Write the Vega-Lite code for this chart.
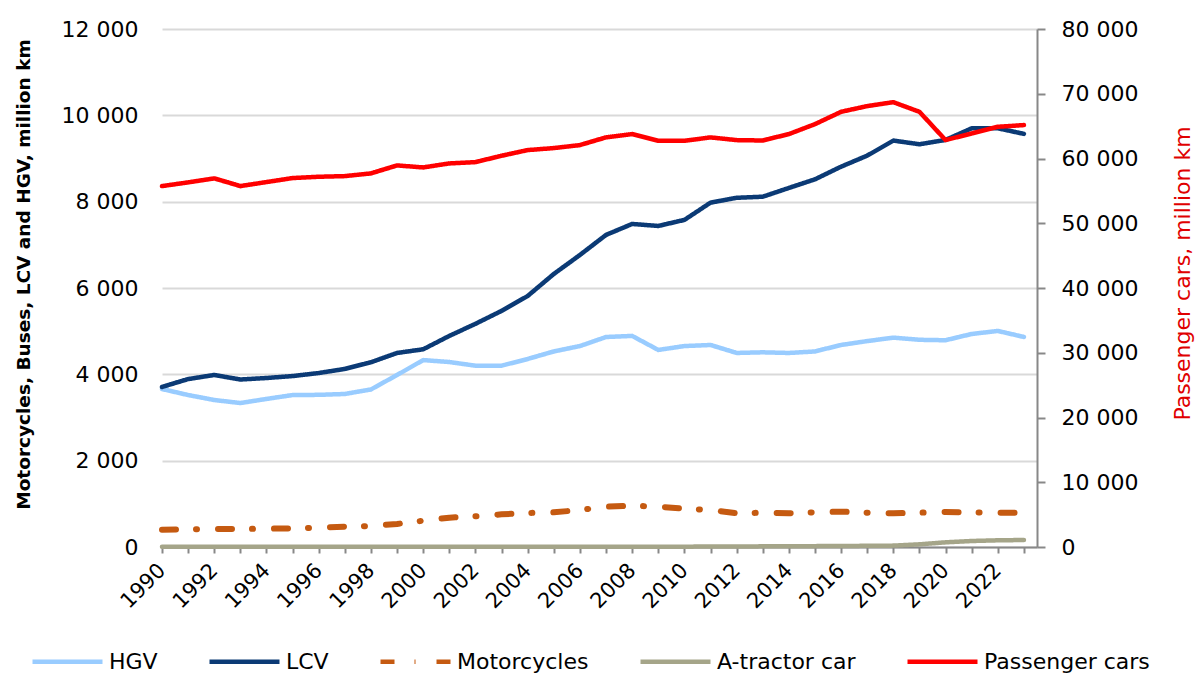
{
  "$schema": "https://vega.github.io/schema/vega-lite/v6.json",
  "width": 875,
  "height": 518,
  "autosize": {"type": "none"},
  "padding": {"left": 162, "top": 29, "right": 160, "bottom": 126},
  "background": "white",
  "config": {
    "font": "DejaVu Sans",
    "view": {"stroke": null},
    "axis": {"labelFont": "DejaVu Sans", "titleFont": "DejaVu Sans", "labelColor": "#000000", "titleColor": "#000000"}
  },
  "datasets": {
    "left": [
      {"year":1990,"series":"HGV","value":3660},{"year":1991,"series":"HGV","value":3520},{"year":1992,"series":"HGV","value":3405},{"year":1993,"series":"HGV","value":3335},{"year":1994,"series":"HGV","value":3430},{"year":1995,"series":"HGV","value":3520},{"year":1996,"series":"HGV","value":3525},{"year":1997,"series":"HGV","value":3545},{"year":1998,"series":"HGV","value":3650},{"year":1999,"series":"HGV","value":3985},{"year":2000,"series":"HGV","value":4330},{"year":2001,"series":"HGV","value":4285},{"year":2002,"series":"HGV","value":4200},{"year":2003,"series":"HGV","value":4200},{"year":2004,"series":"HGV","value":4355},{"year":2005,"series":"HGV","value":4530},{"year":2006,"series":"HGV","value":4655},{"year":2007,"series":"HGV","value":4865},{"year":2008,"series":"HGV","value":4890},{"year":2009,"series":"HGV","value":4565},{"year":2010,"series":"HGV","value":4655},{"year":2011,"series":"HGV","value":4680},{"year":2012,"series":"HGV","value":4495},{"year":2013,"series":"HGV","value":4510},{"year":2014,"series":"HGV","value":4495},{"year":2015,"series":"HGV","value":4530},{"year":2016,"series":"HGV","value":4680},{"year":2017,"series":"HGV","value":4770},{"year":2018,"series":"HGV","value":4850},{"year":2019,"series":"HGV","value":4800},{"year":2020,"series":"HGV","value":4790},{"year":2021,"series":"HGV","value":4935},{"year":2022,"series":"HGV","value":5005},{"year":2023,"series":"HGV","value":4865},
      {"year":1990,"series":"LCV","value":3707},{"year":1991,"series":"LCV","value":3890},{"year":1992,"series":"LCV","value":3985},{"year":1993,"series":"LCV","value":3880},{"year":1994,"series":"LCV","value":3915},{"year":1995,"series":"LCV","value":3960},{"year":1996,"series":"LCV","value":4030},{"year":1997,"series":"LCV","value":4125},{"year":1998,"series":"LCV","value":4280},{"year":1999,"series":"LCV","value":4495},{"year":2000,"series":"LCV","value":4580},{"year":2001,"series":"LCV","value":4890},{"year":2002,"series":"LCV","value":5170},{"year":2003,"series":"LCV","value":5470},{"year":2004,"series":"LCV","value":5815},{"year":2005,"series":"LCV","value":6325},{"year":2006,"series":"LCV","value":6765},{"year":2007,"series":"LCV","value":7230},{"year":2008,"series":"LCV","value":7484},{"year":2009,"series":"LCV","value":7437},{"year":2010,"series":"LCV","value":7577},{"year":2011,"series":"LCV","value":7977},{"year":2012,"series":"LCV","value":8090},{"year":2013,"series":"LCV","value":8115},{"year":2014,"series":"LCV","value":8318},{"year":2015,"series":"LCV","value":8518},{"year":2016,"series":"LCV","value":8811},{"year":2017,"series":"LCV","value":9067},{"year":2018,"series":"LCV","value":9415},{"year":2019,"series":"LCV","value":9330},{"year":2020,"series":"LCV","value":9430},{"year":2021,"series":"LCV","value":9700},{"year":2022,"series":"LCV","value":9700},{"year":2023,"series":"LCV","value":9570},
      {"year":1990,"series":"Motorcycles","value":400},{"year":1991,"series":"Motorcycles","value":408},{"year":1992,"series":"Motorcycles","value":417},{"year":1993,"series":"Motorcycles","value":417},{"year":1994,"series":"Motorcycles","value":424},{"year":1995,"series":"Motorcycles","value":432},{"year":1996,"series":"Motorcycles","value":448},{"year":1997,"series":"Motorcycles","value":471},{"year":1998,"series":"Motorcycles","value":487},{"year":1999,"series":"Motorcycles","value":533},{"year":2000,"series":"Motorcycles","value":610},{"year":2001,"series":"Motorcycles","value":679},{"year":2002,"series":"Motorcycles","value":711},{"year":2003,"series":"Motorcycles","value":757},{"year":2004,"series":"Motorcycles","value":788},{"year":2005,"series":"Motorcycles","value":803},{"year":2006,"series":"Motorcycles","value":857},{"year":2007,"series":"Motorcycles","value":934},{"year":2008,"series":"Motorcycles","value":957},{"year":2009,"series":"Motorcycles","value":934},{"year":2010,"series":"Motorcycles","value":888},{"year":2011,"series":"Motorcycles","value":857},{"year":2012,"series":"Motorcycles","value":780},{"year":2013,"series":"Motorcycles","value":795},{"year":2014,"series":"Motorcycles","value":780},{"year":2015,"series":"Motorcycles","value":803},{"year":2016,"series":"Motorcycles","value":819},{"year":2017,"series":"Motorcycles","value":795},{"year":2018,"series":"Motorcycles","value":780},{"year":2019,"series":"Motorcycles","value":795},{"year":2020,"series":"Motorcycles","value":811},{"year":2021,"series":"Motorcycles","value":803},{"year":2022,"series":"Motorcycles","value":795},{"year":2023,"series":"Motorcycles","value":795},
      {"year":1990,"series":"A-tractor car","value":5},{"year":1991,"series":"A-tractor car","value":5},{"year":1992,"series":"A-tractor car","value":5},{"year":1993,"series":"A-tractor car","value":5},{"year":1994,"series":"A-tractor car","value":5},{"year":1995,"series":"A-tractor car","value":5},{"year":1996,"series":"A-tractor car","value":5},{"year":1997,"series":"A-tractor car","value":5},{"year":1998,"series":"A-tractor car","value":5},{"year":1999,"series":"A-tractor car","value":5},{"year":2000,"series":"A-tractor car","value":5},{"year":2001,"series":"A-tractor car","value":5},{"year":2002,"series":"A-tractor car","value":5},{"year":2003,"series":"A-tractor car","value":5},{"year":2004,"series":"A-tractor car","value":5},{"year":2005,"series":"A-tractor car","value":5},{"year":2006,"series":"A-tractor car","value":5},{"year":2007,"series":"A-tractor car","value":5},{"year":2008,"series":"A-tractor car","value":5},{"year":2009,"series":"A-tractor car","value":5},{"year":2010,"series":"A-tractor car","value":8},{"year":2011,"series":"A-tractor car","value":10},{"year":2012,"series":"A-tractor car","value":12},{"year":2013,"series":"A-tractor car","value":15},{"year":2014,"series":"A-tractor car","value":18},{"year":2015,"series":"A-tractor car","value":20},{"year":2016,"series":"A-tractor car","value":24},{"year":2017,"series":"A-tractor car","value":27},{"year":2018,"series":"A-tractor car","value":32},{"year":2019,"series":"A-tractor car","value":62},{"year":2020,"series":"A-tractor car","value":108},{"year":2021,"series":"A-tractor car","value":139},{"year":2022,"series":"A-tractor car","value":155},{"year":2023,"series":"A-tractor car","value":162}
    ],
    "right": [
      {"year":1990,"series":"Passenger cars","value":55740},{"year":1991,"series":"Passenger cars","value":56310},{"year":1992,"series":"Passenger cars","value":56930},{"year":1993,"series":"Passenger cars","value":55740},{"year":1994,"series":"Passenger cars","value":56360},{"year":1995,"series":"Passenger cars","value":56980},{"year":1996,"series":"Passenger cars","value":57180},{"year":1997,"series":"Passenger cars","value":57280},{"year":1998,"series":"Passenger cars","value":57700},{"year":1999,"series":"Passenger cars","value":58930},{"year":2000,"series":"Passenger cars","value":58620},{"year":2001,"series":"Passenger cars","value":59240},{"year":2002,"series":"Passenger cars","value":59440},{"year":2003,"series":"Passenger cars","value":60420},{"year":2004,"series":"Passenger cars","value":61300},{"year":2005,"series":"Passenger cars","value":61610},{"year":2006,"series":"Passenger cars","value":62070},{"year":2007,"series":"Passenger cars","value":63260},{"year":2008,"series":"Passenger cars","value":63770},{"year":2009,"series":"Passenger cars","value":62730},{"year":2010,"series":"Passenger cars","value":62730},{"year":2011,"series":"Passenger cars","value":63260},{"year":2012,"series":"Passenger cars","value":62840},{"year":2013,"series":"Passenger cars","value":62780},{"year":2014,"series":"Passenger cars","value":63770},{"year":2015,"series":"Passenger cars","value":65310},{"year":2016,"series":"Passenger cars","value":67210},{"year":2017,"series":"Passenger cars","value":68090},{"year":2018,"series":"Passenger cars","value":68700},{"year":2019,"series":"Passenger cars","value":67210},{"year":2020,"series":"Passenger cars","value":62840},{"year":2021,"series":"Passenger cars","value":63870},{"year":2022,"series":"Passenger cars","value":64900},{"year":2023,"series":"Passenger cars","value":65160}
    ]
  },
  "encoding": {
    "x": {
      "field": "year", "type": "quantitative",
      "scale": {"domain": [1990, 2023.5], "nice": false, "zero": false},
      "axis": {
        "title": null,
        "values": [1990,1991,1992,1993,1994,1995,1996,1997,1998,1999,2000,2001,2002,2003,2004,2005,2006,2007,2008,2009,2010,2011,2012,2013,2014,2015,2016,2017,2018,2019,2020,2021,2022,2023],
        "labelExpr": "datum.value % 2 == 0 ? '' + datum.value : ''",
        "labelAngle": -45,
        "labelAlign": "right",
        "labelBaseline": "middle",
        "labelFontSize": 21,
        "labelPadding": 14,
        "labelOverlap": false,
        "labelBound": false,
        "labelFlush": false,
        "grid": false,
        "domainColor": "#888888",
        "domainWidth": 2,
        "tickColor": "#888888",
        "tickWidth": 2,
        "tickSize": 6
      }
    },
    "color": {
      "field": "series", "type": "nominal",
      "scale": {
        "domain": ["HGV", "LCV", "Motorcycles", "A-tractor car", "Passenger cars"],
        "range": ["#99CCFF", "#0B3A75", "#C55A11", "#A5A589", "#FF0000"]
      },
      "legend": {
        "title": null,
        "orient": "none",
        "legendX": -132,
        "legendY": 595,
        "direction": "horizontal",
        "symbolType": "stroke",
        "symbolStrokeWidth": 4.5,
        "symbolSize": 4900,
        "labelFontSize": 22,
        "labelFont": "DejaVu Sans",
        "labelColor": "#000000",
        "labelOffset": 4,
        "columnPadding": 42,
        "labelLimit": 300
      }
    },
    "strokeDash": {
      "field": "series", "type": "nominal",
      "scale": {
        "domain": ["HGV", "LCV", "Motorcycles", "A-tractor car", "Passenger cars"],
        "range": [[1, 0], [1, 0], [14, 20, 1, 21], [1, 0], [1, 0]]
      },
      "legend": {
        "title": null,
        "orient": "none",
        "legendX": -132,
        "legendY": 595,
        "direction": "horizontal",
        "symbolType": "stroke",
        "symbolStrokeWidth": 4.5,
        "symbolSize": 4900,
        "labelFontSize": 22,
        "labelFont": "DejaVu Sans",
        "labelColor": "#000000",
        "labelOffset": 4,
        "columnPadding": 42,
        "labelLimit": 300
      }
    }
  },
  "layer": [
    {
      "data": {"name": "left"},
      "mark": {"type": "line", "strokeCap": "round", "strokeJoin": "round"},
      "encoding": {
        "strokeWidth": {"condition": {"test": "datum.series === 'Motorcycles'", "value": 6}, "value": 4.5},
        "y": {
          "field": "value", "type": "quantitative",
          "scale": {"domain": [0, 12000], "nice": false},
          "axis": {
            "orient": "left",
            "values": [0, 2000, 4000, 6000, 8000, 10000, 12000],
            "labelExpr": "replace(format(datum.value, ',d'), ',', ' ')",
            "labelFontSize": 22,
            "labelPadding": 24,
            "ticks": false,
            "domain": false,
            "grid": true,
            "gridColor": "#D9D9D9",
            "gridWidth": 2,
            "title": "Motorcycles, Buses, LCV and HGV, million km",
            "titleFontSize": 18.5,
            "titleFontWeight": "bold",
            "titleAngle": -90,
            "titleAlign": "center",
            "titleBaseline": "middle",
            "titleX": -139,
            "titleY": 245
          }
        }
      }
    },
    {
      "data": {"name": "right"},
      "mark": {"type": "line", "strokeWidth": 4.5, "strokeCap": "round", "strokeJoin": "round"},
      "encoding": {
        "y": {
          "field": "value", "type": "quantitative",
          "scale": {"domain": [0, 80000], "nice": false},
          "axis": {
            "orient": "right",
            "values": [0, 10000, 20000, 30000, 40000, 50000, 60000, 70000, 80000],
            "labelExpr": "replace(format(datum.value, ',d'), ',', ' ')",
            "labelFontSize": 22,
            "labelPadding": 16,
            "ticks": true,
            "tickSize": 8,
            "tickColor": "#888888",
            "tickWidth": 2,
            "domain": true,
            "domainColor": "#888888",
            "domainWidth": 2,
            "grid": false,
            "title": "Passenger cars, million km",
            "titleFontSize": 22,
            "titleFontWeight": "normal",
            "titleColor": "#E00000",
            "titleAngle": -90,
            "titleAlign": "center",
            "titleBaseline": "middle",
            "titleX": 145,
            "titleY": 244
          }
        }
      }
    }
  ],
  "resolve": {"scale": {"y": "independent"}}
}
